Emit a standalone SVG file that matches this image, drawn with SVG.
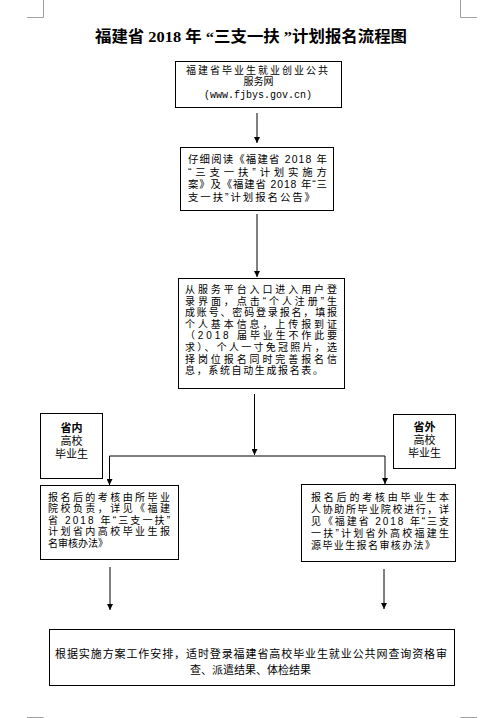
<svg xmlns="http://www.w3.org/2000/svg" width="489" height="718" viewBox="0 0 489 718">
<style>
.bg{fill:#fff}
.box{fill:#fff;stroke:#000;stroke-width:1}
.t{font-family:"Liberation Sans","Noto Sans CJK SC",sans-serif;font-size:10px;fill:#000}
.m{font-size:10.4px}
.l{font-size:11px}
.c{text-anchor:middle}
.b{font-weight:bold}
.title{font-family:"Liberation Serif","Noto Sans CJK SC",serif;font-size:15.5px;font-weight:bold;fill:#000}
.mono{font-family:"Liberation Mono",monospace;font-size:10px;fill:#000}
.conn{fill:none;stroke:#000;stroke-width:1}
.mark{fill:none;stroke:#a0a0a0;stroke-width:1}
</style>
<defs>
<marker id="ah" markerUnits="userSpaceOnUse" markerWidth="6" markerHeight="6" refX="6" refY="3" orient="auto">
<path d="M0,0 L6,3 L0,6 z" fill="#000"/>
</marker>
</defs>
<rect class="bg" x="0" y="0" width="489" height="718"/>
<g id="cornermarks">
<path class="mark" d="M27,17.5 H43.5 V0 M460.5,0 V17.5 H477 M27,717.5 H43.5 M460.5,717.5 H477"/>
</g>
<g id="title">
<text class="title" x="95" y="42" textLength="312" lengthAdjust="spacingAndGlyphs">福建省 2018 年 “三支一扶 ”计划报名流程图</text>
</g>
<g id="connectors">
<path class="conn" d="M257,113 V143" marker-end="url(#ah)"/>
<path class="conn" d="M257,214 V277" marker-end="url(#ah)"/>
<path class="conn" d="M254.5,394 V455" marker-end="url(#ah)"/>
<path class="conn" d="M254.5,456 H109.5 V485" marker-end="url(#ah)"/>
<path class="conn" d="M254.5,456 H385 V484" marker-end="url(#ah)"/>
<path class="conn" d="M110,567 V610" marker-end="url(#ah)"/>
<path class="conn" d="M384,569 V609" marker-end="url(#ah)"/>
</g>
<g id="n1">
<rect class="box" x="175.5" y="61.5" width="166" height="46"/>
<text class="t" x="186" y="73.5" textLength="142" lengthAdjust="spacing">福建省毕业生就业创业公共</text>
<text class="t c" x="258.5" y="85">服务网</text>
<text class="mono c" x="258" y="97.5">(www.fjbys.gov.cn)</text>
</g>
<g id="n2">
<rect class="box" x="180.5" y="147.5" width="153" height="63"/>
<text class="t m" x="188" y="163" textLength="139" lengthAdjust="spacing">仔细阅读《福建省 2018 年</text>
<text class="t m" x="188" y="175.5" textLength="139" lengthAdjust="spacing">“三支一扶”计划实施方</text>
<text class="t m" x="188" y="188" textLength="139" lengthAdjust="spacing">案》及《福建省 2018 年“三</text>
<text class="t m" x="188" y="200.5" textLength="127" lengthAdjust="spacing">支一扶”计划报名公告》</text>
</g>
<g id="n3">
<rect class="box" x="178.5" y="278.5" width="166" height="110"/>
<text class="t" x="185" y="293" textLength="152" lengthAdjust="spacing">从服务平台入口进入用户登</text>
<text class="t" x="185" y="304.6" textLength="152" lengthAdjust="spacing">录界面，点击“个人注册”生</text>
<text class="t" x="185" y="316.2" textLength="152" lengthAdjust="spacing">成账号、密码登录报名，填报</text>
<text class="t" x="185" y="327.8" textLength="152" lengthAdjust="spacing">个人基本信息，上传报到证</text>
<text class="t" x="185" y="339.4" textLength="152" lengthAdjust="spacing">（2018 届毕业生不作此要</text>
<text class="t" x="185" y="351" textLength="152" lengthAdjust="spacing">求）、个人一寸免冠照片，选</text>
<text class="t" x="185" y="362.6" textLength="152" lengthAdjust="spacing">择岗位报名同时完善报名信</text>
<text class="t" x="185" y="374.2" textLength="138" lengthAdjust="spacing">息，系统自动生成报名表。</text>
</g>
<g id="n4">
<rect class="box" x="40.5" y="413.5" width="62" height="65"/>
<text class="t l c b" x="71.5" y="432">省内</text>
<text class="t l c" x="71.5" y="445">高校</text>
<text class="t l c" x="71.5" y="458">毕业生</text>
</g>
<g id="n5">
<rect class="box" x="393.5" y="414.5" width="62" height="54"/>
<text class="t l c b" x="424.5" y="430.5">省外</text>
<text class="t l c" x="424.5" y="443.5">高校</text>
<text class="t l c" x="424.5" y="456.5">毕业生</text>
</g>
<g id="n6">
<rect class="box" x="40.5" y="485.5" width="138" height="74"/>
<text class="t" x="48" y="500.5" textLength="122" lengthAdjust="spacing">报名后的考核由所毕业</text>
<text class="t" x="48" y="512.1" textLength="122" lengthAdjust="spacing">院校负责，详见《福建</text>
<text class="t" x="48" y="523.7" textLength="122" lengthAdjust="spacing">省 2018 年“三支一扶”</text>
<text class="t" x="48" y="535.3" textLength="122" lengthAdjust="spacing">计划省内高校毕业生报</text>
<text class="t" x="48" y="546.9">名审核办法》</text>
</g>
<g id="n7">
<rect class="box" x="301.5" y="484.5" width="154" height="77"/>
<text class="t" x="311" y="500.5" textLength="138" lengthAdjust="spacing">报名后的考核由毕业生本</text>
<text class="t" x="311" y="512.5" textLength="138" lengthAdjust="spacing">人协助所毕业院校进行，详</text>
<text class="t" x="311" y="524.5" textLength="138" lengthAdjust="spacing">见《福建省 2018 年“三支</text>
<text class="t" x="311" y="536.5" textLength="138" lengthAdjust="spacing">一扶”计划省外高校福建生</text>
<text class="t" x="311" y="548.5" textLength="124" lengthAdjust="spacing">源毕业生报名审核办法》</text>
</g>
<g id="n8">
<rect class="box" x="49.5" y="629.5" width="405" height="56"/>
<text class="t l" x="55" y="658" textLength="392" lengthAdjust="spacing">根据实施方案工作安排，适时登录福建省高校毕业生就业公共网查询资格审</text>
<text class="t l c" x="250.5" y="674">查、派遣结果、体检结果</text>
</g>
</svg>
